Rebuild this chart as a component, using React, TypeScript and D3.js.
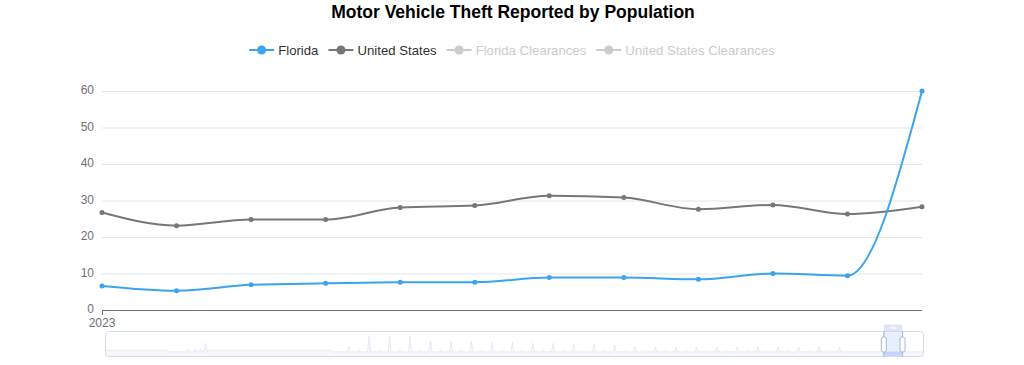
import React, { useEffect, useRef } from 'react';
import * as d3 from 'd3';

// main chart data (2023, monthly)
const months = ['Jan', 'Feb', 'Mar', 'Apr', 'May', 'Jun', 'Jul', 'Aug', 'Sep', 'Oct', 'Nov', 'Dec'];
const florida = [6.6, 5.3, 6.9, 7.3, 7.6, 7.6, 8.9, 8.9, 8.4, 10.0, 9.4, 60.0];
const unitedStates = [26.7, 23.1, 24.8, 24.8, 28.1, 28.6, 31.3, 30.8, 27.6, 28.8, 26.3, 28.3];
const yTicks = [0, 10, 20, 30, 40, 50, 60];
const xLabels = ['2023'];

const legendNames = ['Florida', 'United States', 'Florida Clearances', 'United States Clearances'];
const legendActive = [true, true, false, false];
const seriesColors = ['#3ba4ec', '#777777', '#cccccc', '#cccccc'];

// data zoom shadow (whole history, month index 0..480)
const shadowBase: [number, number][] = [[0, 7.5], [36, 7.5], [37, 5.5], [60, 5.5], [61, 7.5], [133, 7.5], [134, 5.5], [480, 5.5]];
const shadowSpikeT = [49, 53, 56, 59,
  143, 155, 167, 179, 191, 203, 215, 227, 239, 251, 263, 275, 287, 299, 311, 323, 335, 347, 359, 371, 383, 395, 407, 419, 431,
  149, 161, 173, 185, 197, 209, 221, 233, 245, 257, 269, 281, 293, 305, 317, 329, 341, 353, 365, 377, 389, 401, 413, 425];
const shadowSpikeV = [9, 9, 9, 16,
  12.5, 24.5, 24.5, 24.5, 18.5, 18.5, 18.5, 17, 17, 16, 16, 15, 15, 14, 11.5, 11.5, 11.5, 11.5, 11.5, 11.5, 11.5, 11.5, 11.5, 11.5, 11.5,
  8, 8, 8, 8, 8, 8, 8, 8, 8, 8, 7.5, 7.5, 7.5, 7.5, 7.5, 7.5, 7.5, 7.5, 7.5, 7.5, 7.5, 7.5, 7.5, 7.5];
const shadowTotal = 480;
const zoomStart = 457; // selected window in month index
const zoomEnd = 468;

const FONT = '"Liberation Sans", Arial, sans-serif';

const App = () => {
  const ref = useRef<SVGSVGElement>(null);

  useEffect(() => {
    const svg = d3.select(ref.current);
    svg.selectAll('*').remove();

    const W = 1024;
    const left = 102, right = 922, top = 91, bottom = 310;

    // title
    svg.append('text')
      .attr('x', W / 2 + 1).attr('y', 18)
      .attr('text-anchor', 'middle')
      .attr('font-family', FONT)
      .attr('font-weight', 'bold')
      .attr('font-size', 17.5)
      .attr('fill', '#000')
      .text('Motor Vehicle Theft Reported by Population');

    // legend
    const lg = svg.append('g');
    const items = lg.selectAll('g').data(legendNames).join('g');
    items.append('line')
      .attr('x1', 0).attr('x2', 25).attr('y1', 0).attr('y2', 0)
      .attr('stroke', (d, i) => seriesColors[i]).attr('stroke-width', 2);
    items.append('circle')
      .attr('cx', 12.5).attr('cy', 0).attr('r', 4.5)
      .attr('fill', (d, i) => seriesColors[i]);
    const texts = items.append('text')
      .attr('x', 29).attr('dy', '0.35em')
      .attr('font-family', FONT)
      .attr('font-size', 13.2)
      .attr('fill', (d, i) => legendActive[i] ? '#333' : '#ccc')
      .text(d => d);
    const widths: number[] = [];
    texts.each(function () { widths.push((this as SVGTextElement).getComputedTextLength()); });
    const gap = 10;
    const total = d3.sum(widths.map(w => w + 29)) + gap * (widths.length - 1);
    let cx = W / 2 - total / 2;
    items.attr('transform', (d, i) => {
      const t = `translate(${cx},50)`;
      cx += widths[i] + 29 + gap;
      return t;
    });

    // scales
    const x = d3.scalePoint<number>().domain(d3.range(months.length)).range([left, right]);
    const y = d3.scaleLinear().domain([0, 60]).range([bottom, top]);

    // grid + y labels
    const grid = svg.append('g');
    grid.selectAll('line').data(yTicks.filter(t => t > 0)).join('line')
      .attr('x1', left).attr('x2', right)
      .attr('y1', d => y(d) + 0.5).attr('y2', d => y(d) + 0.5)
      .attr('stroke', '#E0E6F1').attr('stroke-width', 1);
    grid.selectAll('text').data(yTicks).join('text')
      .attr('x', left - 8).attr('y', d => y(d) - 1).attr('dy', '0.35em')
      .attr('text-anchor', 'end')
      .attr('font-family', FONT).attr('font-size', 12)
      .attr('fill', '#6E7079')
      .text(d => d);

    // x axis
    svg.append('line')
      .attr('x1', left).attr('x2', right).attr('y1', bottom + 0.5).attr('y2', bottom + 0.5)
      .attr('stroke', '#6E7079');
    svg.append('line')
      .attr('x1', x(0)! + 0.5).attr('x2', x(0)! + 0.5).attr('y1', bottom).attr('y2', bottom + 5)
      .attr('stroke', '#6E7079');
    svg.append('text')
      .attr('x', x(0)!).attr('y', bottom + 17)
      .attr('text-anchor', 'middle')
      .attr('font-family', FONT).attr('font-size', 12)
      .attr('fill', '#6E7079')
      .text(xLabels[0]);

    // series
    const line = d3.line<number>().x((d, i) => x(i)!).y(d => y(d)).curve(d3.curveMonotoneX);
    [unitedStates, florida].forEach((s, k) => {
      const color = k === 0 ? seriesColors[1] : seriesColors[0];
      svg.append('path').attr('d', line(s)).attr('fill', 'none')
        .attr('stroke', color).attr('stroke-width', 2);
      svg.append('g').selectAll('circle').data(s).join('circle')
        .attr('cx', (d, i) => x(i)!).attr('cy', d => y(d)).attr('r', 2.5)
        .attr('fill', color);
    });

    // data zoom slider
    const sx = d3.scaleLinear().domain([0, shadowTotal]).range([105, 923]);
    const sy = d3.scaleLinear().domain([0, 30]).range([356.5, 331.5]);
    const baseAt = d3.scaleLinear().domain(shadowBase.map(d => d[0])).range(shadowBase.map(d => d[1]));
    const pts: [number, number][] = shadowBase.slice();
    shadowSpikeT.forEach((t, i) => {
      pts.push([t - 0.9, baseAt(t - 0.9)], [t, shadowSpikeV[i]], [t + 0.9, baseAt(t + 0.9)]);
    });
    pts.sort((a, b) => a[0] - b[0]);
    const area = d3.area<[number, number]>().x(d => sx(d[0])).y0(sy(0)).y1(d => sy(d[1]));
    const sline = d3.line<[number, number]>().x(d => sx(d[0])).y(d => sy(d[1]));
    svg.append('path').attr('d', area(pts)).attr('fill', '#d2dbee').attr('fill-opacity', 0.2);
    svg.append('path').attr('d', sline(pts)).attr('fill', 'none').attr('stroke', '#d2dbee').attr('stroke-width', 0.5);

    const x0 = sx(zoomStart), x1 = sx(zoomEnd);
    const selPts = pts.filter(d => d[0] >= zoomStart && d[0] <= zoomEnd);
    svg.append('rect').attr('x', x0).attr('y', 331).attr('width', x1 - x0).attr('height', 26)
      .attr('fill', 'rgb(135,175,255)').attr('fill-opacity', 0.2);
    svg.append('path').attr('d', area([[zoomStart, baseAt(zoomStart)], ...selPts, [zoomEnd, baseAt(zoomEnd)]]))
      .attr('fill', '#8fb0f7').attr('fill-opacity', 0.3);
    svg.append('rect').attr('x', 105.5).attr('y', 331.5).attr('width', 818).attr('height', 25).attr('rx', 3)
      .attr('fill', 'none').attr('stroke', '#d2dbee');
    // move handle
    svg.append('rect').attr('x', x0).attr('y', 324.5).attr('width', x1 - x0).attr('height', 7)
      .attr('fill', '#D2DBEE').attr('fill-opacity', 0.7);
    [-2, 0, 2].forEach(o => {
      svg.append('line').attr('x1', (x0 + x1) / 2 + o).attr('x2', (x0 + x1) / 2 + o)
        .attr('y1', 326.5).attr('y2', 329).attr('stroke', '#fff').attr('stroke-width', 1);
    });
    [x0, x1].forEach(hx => {
      svg.append('line').attr('x1', hx).attr('x2', hx).attr('y1', 331).attr('y2', 357)
        .attr('stroke', '#ACB8D1').attr('stroke-width', 1);
      svg.append('rect').attr('x', hx - 2.5).attr('y', 337).attr('width', 5).attr('height', 15).attr('rx', 2)
        .attr('fill', '#fff').attr('stroke', '#ACB8D1').attr('stroke-width', 1);
    });
  }, []);

  return (
    <svg ref={ref} width={1024} height={365}
      style={{ position: 'fixed', left: 0, top: 0, background: '#fff' }} />
  );
};

export default App;
